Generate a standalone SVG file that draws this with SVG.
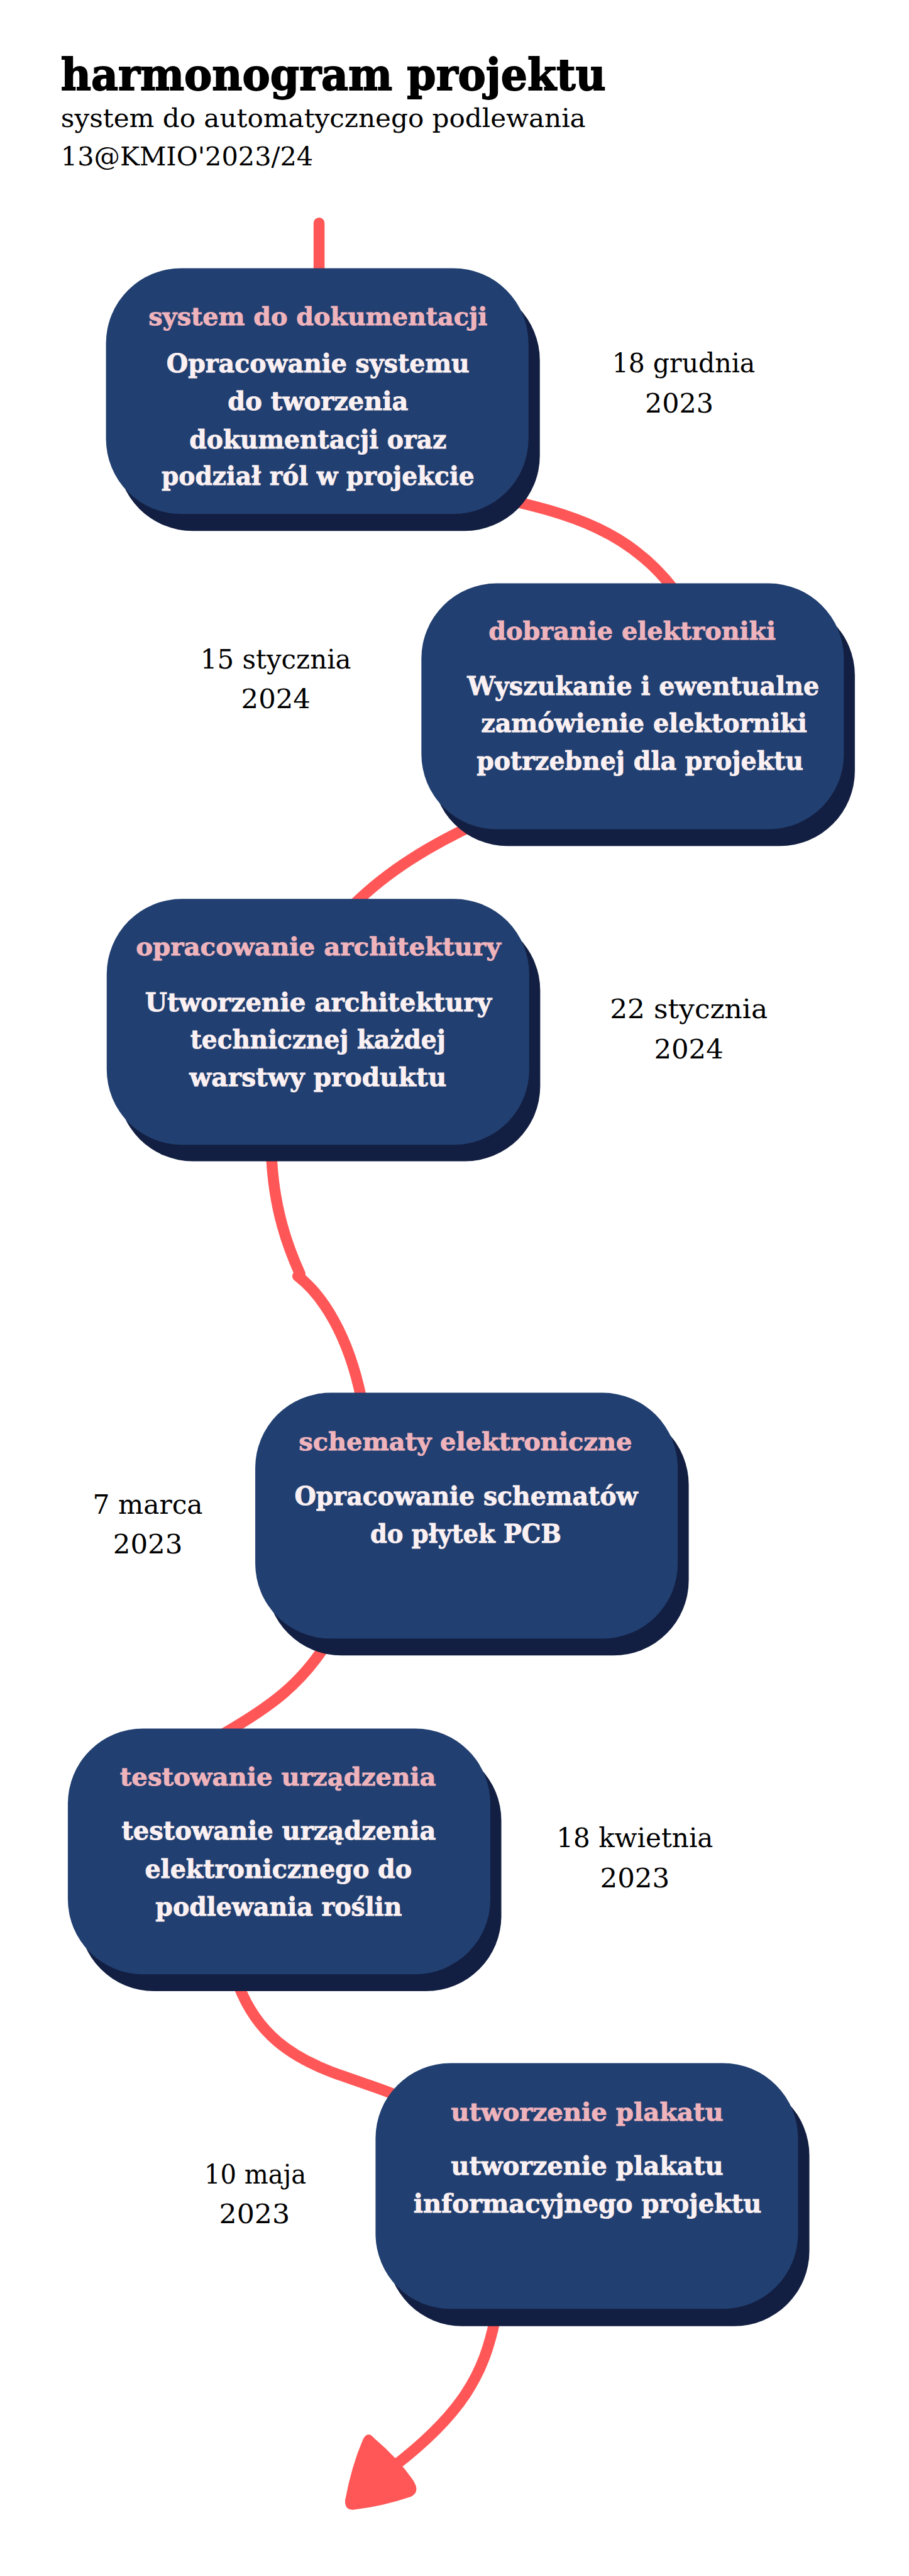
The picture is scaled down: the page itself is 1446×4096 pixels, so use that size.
<svg xmlns="http://www.w3.org/2000/svg" width="1446" height="4096" viewBox="0 0 1446 4096">
<style>
.sh{fill:#131f42}
.cd{fill:#213f70}
.hd{font-family:"DejaVu Serif",serif;font-weight:bold;font-size:66px;fill:#efb3bc;stroke:#efb3bc;stroke-width:1.5px;text-anchor:middle}
.bd{font-family:"DejaVu Serif",serif;font-weight:bold;font-size:70px;fill:#fbf0f2;stroke:#fbf0f2;stroke-width:1.5px;text-anchor:middle}
.dt{font-family:"DejaVu Serif",serif;font-size:74px;fill:#000;text-anchor:middle}
.ln{fill:none;stroke:#ff5757;stroke-width:30;stroke-linecap:round;stroke-linejoin:round}
</style>
<rect width="1446" height="4096" fill="#fff"/>
<g transform="scale(0.5834)">
<g id="title">
<text x="166" y="245" textLength="1486" lengthAdjust="spacingAndGlyphs" style="font-family:'DejaVu Serif',serif;font-weight:bold;font-size:120px;fill:#000;stroke:#000;stroke-width:3px">harmonogram projektu</text>
<text x="166" y="347" textLength="1431" lengthAdjust="spacingAndGlyphs" style="font-family:'DejaVu Serif',serif;font-size:70px;fill:#000">system do automatycznego podlewania</text>
<text x="166" y="451" textLength="688" lengthAdjust="spacingAndGlyphs" style="font-family:'DejaVu Serif',serif;font-size:70px;fill:#000">13@KMIO'2023/24</text>
</g>
<g id="connectors">
<path class="ln" d="M870 608 L870 760"/>
<path class="ln" d="M1350 1355 C1560 1400 1720 1450 1840 1610"/>
<path class="ln" d="M1310 2240 C1180 2300 1060 2370 960 2470"/>
<path class="ln" d="M740 3140 C745 3300 790 3410 818 3472"/>
<path class="ln" d="M812 3478 C880 3530 950 3640 985 3810"/>
<path class="ln" d="M890 4480 C820 4590 740 4650 610 4725"/>
<path class="ln" d="M650 5410 C700 5540 790 5610 940 5660 C1010 5685 1060 5700 1090 5715"/>
<path class="ln" d="M1350 6320 C1320 6470 1260 6580 1070 6725"/>
<path fill="#ff5757" d="M1020 6645 Q1085 6700 1125 6758 Q1148 6792 1120 6805 Q1040 6832 965 6840 Q940 6843 941 6815 Q958 6722 990 6648 Q1003 6624 1020 6645 Z"/>
</g>
<g id="node1">
<rect class="sh" x="320" y="777" width="1152" height="670" rx="205"/>
<rect class="cd" x="289" y="731" width="1152" height="670" rx="205"/>
<text class="hd" x="867" y="886" textLength="924" lengthAdjust="spacingAndGlyphs">system do dokumentacji</text>
<text class="bd" x="867" y="1015" textLength="826" lengthAdjust="spacingAndGlyphs">Opracowanie systemu</text>
<text class="bd" x="867" y="1118" textLength="492" lengthAdjust="spacingAndGlyphs">do tworzenia</text>
<text class="bd" x="867" y="1222" textLength="701" lengthAdjust="spacingAndGlyphs">dokumentacji oraz</text>
<text class="bd" x="867" y="1322" textLength="853" lengthAdjust="spacingAndGlyphs">podział ról w projekcie</text>
</g>
<g id="date1">
<text class="dt" x="1864" y="1015" textLength="390" lengthAdjust="spacingAndGlyphs">18 grudnia</text>
<text class="dt" x="1852" y="1125" textLength="187" lengthAdjust="spacingAndGlyphs">2023</text>
</g>
<g id="node2">
<rect class="sh" x="1179" y="1636" width="1152" height="670" rx="205"/>
<rect class="cd" x="1149" y="1590" width="1152" height="670" rx="205"/>
<text class="hd" x="1724" y="1744" textLength="783" lengthAdjust="spacingAndGlyphs">dobranie elektroniki</text>
<text class="bd" x="1754" y="1894" textLength="960" lengthAdjust="spacingAndGlyphs">Wyszukanie i ewentualne</text>
<text class="bd" x="1756" y="1996" textLength="889" lengthAdjust="spacingAndGlyphs">zamówienie elektorniki</text>
<text class="bd" x="1745" y="2098" textLength="891" lengthAdjust="spacingAndGlyphs">potrzebnej dla projektu</text>
</g>
<g id="date2">
<text class="dt" x="752" y="1822" textLength="411" lengthAdjust="spacingAndGlyphs">15 stycznia</text>
<text class="dt" x="752" y="1930" textLength="189" lengthAdjust="spacingAndGlyphs">2024</text>
</g>
<g id="node3">
<rect class="sh" x="321" y="2495" width="1152" height="670" rx="205"/>
<rect class="cd" x="291" y="2450" width="1152" height="670" rx="205"/>
<text class="hd" x="868" y="2604" textLength="995" lengthAdjust="spacingAndGlyphs">opracowanie architektury</text>
<text class="bd" x="868" y="2756" textLength="945" lengthAdjust="spacingAndGlyphs">Utworzenie architektury</text>
<text class="bd" x="867" y="2857" textLength="696" lengthAdjust="spacingAndGlyphs">technicznej każdej</text>
<text class="bd" x="867" y="2960" textLength="701" lengthAdjust="spacingAndGlyphs">warstwy produktu</text>
</g>
<g id="date3">
<text class="dt" x="1878" y="2775" textLength="430" lengthAdjust="spacingAndGlyphs">22 stycznia</text>
<text class="dt" x="1878" y="2885" textLength="189" lengthAdjust="spacingAndGlyphs">2024</text>
</g>
<g id="node4">
<rect class="sh" x="726" y="3842" width="1152" height="670" rx="205"/>
<rect class="cd" x="696" y="3796" width="1152" height="670" rx="205"/>
<text class="hd" x="1269" y="3953" textLength="909" lengthAdjust="spacingAndGlyphs">schematy elektroniczne</text>
<text class="bd" x="1271" y="4101" textLength="936" lengthAdjust="spacingAndGlyphs">Opracowanie schematów</text>
<text class="bd" x="1270" y="4204" textLength="521" lengthAdjust="spacingAndGlyphs">do płytek PCB</text>
</g>
<g id="date4">
<text class="dt" x="403" y="4125" textLength="300" lengthAdjust="spacingAndGlyphs">7 marca</text>
<text class="dt" x="403" y="4234" textLength="190" lengthAdjust="spacingAndGlyphs">2023</text>
</g>
<g id="node5">
<rect class="sh" x="215" y="4757" width="1152" height="670" rx="205"/>
<rect class="cd" x="185" y="4711" width="1152" height="670" rx="205"/>
<text class="hd" x="758" y="4867" textLength="862" lengthAdjust="spacingAndGlyphs">testowanie urządzenia</text>
<text class="bd" x="760" y="5014" textLength="857" lengthAdjust="spacingAndGlyphs">testowanie urządzenia</text>
<text class="bd" x="759" y="5118" textLength="728" lengthAdjust="spacingAndGlyphs">elektronicznego do</text>
<text class="bd" x="760" y="5221" textLength="672" lengthAdjust="spacingAndGlyphs">podlewania roślin</text>
</g>
<g id="date5">
<text class="dt" x="1731" y="5035" textLength="427" lengthAdjust="spacingAndGlyphs">18 kwietnia</text>
<text class="dt" x="1731" y="5144" textLength="190" lengthAdjust="spacingAndGlyphs">2023</text>
</g>
<g id="node6">
<rect class="sh" x="1055" y="5670" width="1152" height="670" rx="205"/>
<rect class="cd" x="1024" y="5623" width="1152" height="670" rx="205"/>
<text class="hd" x="1601" y="5780" textLength="743" lengthAdjust="spacingAndGlyphs">utworzenie plakatu</text>
<text class="bd" x="1601" y="5928" textLength="743" lengthAdjust="spacingAndGlyphs">utworzenie plakatu</text>
<text class="bd" x="1602" y="6031" textLength="949" lengthAdjust="spacingAndGlyphs">informacyjnego projektu</text>
</g>
<g id="date6">
<text class="dt" x="696" y="5951" textLength="278" lengthAdjust="spacingAndGlyphs">10 maja</text>
<text class="dt" x="694" y="6060" textLength="193" lengthAdjust="spacingAndGlyphs">2023</text>
</g>
</g>
</svg>
